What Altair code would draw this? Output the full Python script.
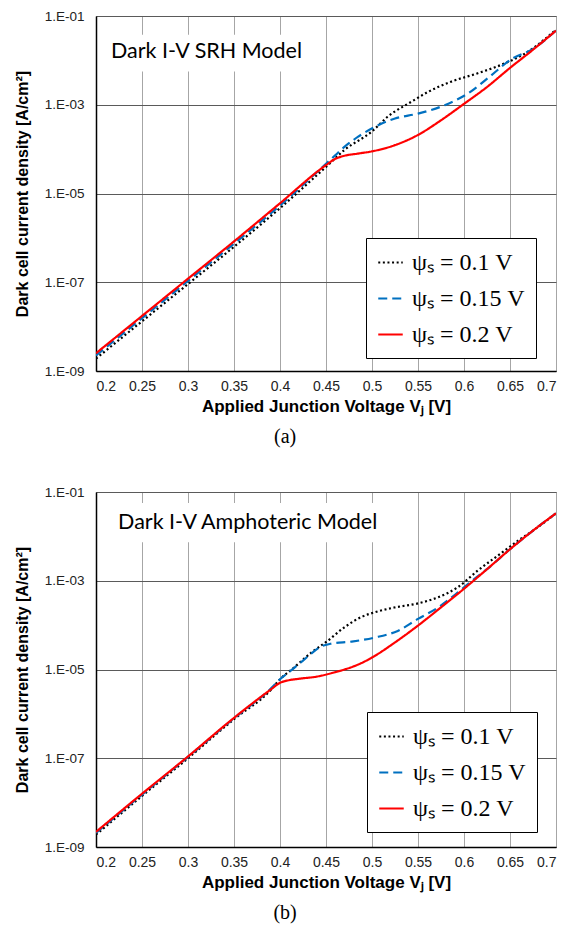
import altair as alt
import pandas as pd

# ---------------- data ----------------
X_TICKS = [0.2, 0.25, 0.3, 0.35, 0.4, 0.45, 0.5, 0.55, 0.6, 0.65, 0.7]
Y_TICKS = [1e-9, 1e-7, 1e-5, 1e-3, 1e-1]

SERIES = ["ψₛ = 0.1 V", "ψₛ = 0.15 V", "ψₛ = 0.2 V"]
COLORS = ["#000000", "#0070C0", "#FF0000"]
DASHES = [[2, 2.6], [9, 5], [1, 0]]

# Panel (a): Dark I-V SRH model  (log10 of current density)
SRH_X_01 = [0.2, 0.25, 0.3, 0.35, 0.4, 0.45, 0.47, 0.5, 0.517, 0.543, 0.561, 0.586, 0.615, 0.644, 0.666, 0.7]
SRH_L_01 = [-8.72, -7.88, -7.04, -6.20, -5.33, -4.40, -4.02, -3.60, -3.27, -2.93, -2.71, -2.48, -2.29, -2.07, -1.85, -1.31]
SRH_X_015 = [0.2, 0.25, 0.3, 0.35, 0.4, 0.45, 0.46, 0.47, 0.485, 0.503, 0.525, 0.55, 0.579, 0.604, 0.63, 0.651, 0.675, 0.7]
SRH_L_015 = [-8.65, -7.81, -6.97, -6.13, -5.27, -4.33, -4.14, -3.95, -3.72, -3.50, -3.31, -3.20, -3.01, -2.75, -2.33, -1.98, -1.74, -1.33]
SRH_X_02 = [0.2, 0.25, 0.3, 0.35, 0.4, 0.45, 0.46, 0.47, 0.485, 0.5, 0.525, 0.55, 0.575, 0.6, 0.625, 0.65, 0.675, 0.7]
SRH_L_02 = [-8.60, -7.76, -6.92, -6.08, -5.22, -4.36, -4.22, -4.15, -4.10, -4.05, -3.91, -3.68, -3.35, -2.98, -2.60, -2.17, -1.76, -1.33]

# Panel (b): Dark I-V amphoteric model (log10 of current density)
AMP_X_01 = [0.2, 0.25, 0.3, 0.35, 0.39, 0.4, 0.415, 0.434, 0.452, 0.47, 0.488, 0.503, 0.525, 0.55, 0.572, 0.593, 0.615, 0.637, 0.66, 0.675, 0.7]
AMP_L_01 = [-8.72, -7.85, -7.00, -6.12, -5.46, -5.22, -4.96, -4.62, -4.35, -4.05, -3.82, -3.71, -3.60, -3.51, -3.37, -3.15, -2.77, -2.43, -2.08, -1.87, -1.48]
AMP_X_015 = [0.2, 0.25, 0.3, 0.35, 0.39, 0.4, 0.412, 0.425, 0.434, 0.445, 0.455, 0.478, 0.503, 0.528, 0.55, 0.572, 0.593, 0.61, 0.625, 0.65, 0.675, 0.7]
AMP_L_015 = [-8.68, -7.82, -6.97, -6.10, -5.43, -5.22, -5.02, -4.80, -4.64, -4.48, -4.42, -4.37, -4.28, -4.13, -3.86, -3.60, -3.27, -2.98, -2.74, -2.29, -1.87, -1.48]
AMP_X_02 = [0.2, 0.25, 0.3, 0.35, 0.39, 0.4, 0.41, 0.42, 0.44, 0.46, 0.47, 0.48, 0.49, 0.5, 0.525, 0.55, 0.575, 0.6, 0.625, 0.65, 0.675, 0.7]
AMP_L_02 = [-8.66, -7.80, -6.96, -6.09, -5.45, -5.30, -5.24, -5.21, -5.16, -5.06, -5.00, -4.93, -4.84, -4.73, -4.39, -4.01, -3.60, -3.18, -2.74, -2.29, -1.87, -1.48]

PANEL_TITLES = ["Dark I-V SRH Model", "Dark I-V Amphoteric Model"]
TEXT_POS = [(0.2163, -1.82), (0.224, -1.70)]          # (x, log10 y) of annotation
BOX = [(0.2076, 0.428, -1.42, -2.25), (0.2076, 0.526, -1.25, -2.13)]
LEGEND_POS = [(270, 222), (271, 220)]
CAPTIONS = ["(a)", "(b)"]

SANS = "Arial, Liberation Sans, sans-serif"
SERIF = "Times New Roman, Liberation Serif, serif"


def make_df(xs_list, ls_list):
    rows = []
    for name, xs, ls in zip(SERIES, xs_list, ls_list):
        for i, (xv, lv) in enumerate(zip(xs, ls)):
            rows.append({"series": name, "x": xv, "y": 10 ** lv, "order": i})
    return pd.DataFrame(rows)


DFS = [
    make_df([SRH_X_01, SRH_X_015, SRH_X_02], [SRH_L_01, SRH_L_015, SRH_L_02]),
    make_df([AMP_X_01, AMP_X_015, AMP_X_02], [AMP_L_01, AMP_L_015, AMP_L_02]),
]

xscale = alt.Scale(domain=[0.2, 0.7], nice=False, zero=False)
yscale = alt.Scale(type="log", domain=[1e-9, 1e-1], nice=False)


def panel(k):
    df = DFS[k]
    x_axis = alt.Axis(
        values=X_TICKS, format=".2~f", title="Applied Junction Voltage Vⱼ [V]",
        grid=True, gridColor="#a6a6a6", gridWidth=1, ticks=False, tickSize=0,
        labelFont=SANS, labelFontSize=14, labelColor="#222",
        labelPadding=8, titleFont=SANS, titleFontSize=17,
        titleFontWeight="bold", titleColor="#000", titlePadding=5,
        domainColor="#000", domainWidth=1.5,
    )
    y_axis = alt.Axis(
        values=Y_TICKS, labelExpr="'1.E-0' + round(-log(datum.value) / LN10)",
        title="Dark cell current density [A/cm²]",
        grid=True, gridColor="#5a5a5a", gridWidth=1, ticks=False, tickSize=0,
        labelFont=SANS, labelFontSize=13.5, labelColor="#222",
        labelPadding=12, titleFont=SANS, titleFontSize=16,
        titleFontWeight="bold", titleColor="#000", titlePadding=14,
        domainColor="#000", domainWidth=1.5,
    )
    lx, ly = LEGEND_POS[k]
    legend = alt.Legend(
        title=None, orient="none", legendX=lx, legendY=ly,
        symbolType="stroke", symbolSize=600, symbolStrokeWidth=2,
        labelFont=SERIF, labelFontSize=24, labelColor="#000",
        labelOffset=8, rowPadding=10, padding=11,
        strokeColor="#000", fillColor="#ffffff",
    )
    lines = alt.Chart(df).mark_line(strokeWidth=2.2, interpolate="monotone", clip=True).encode(
        x=alt.X("x:Q", scale=xscale, axis=x_axis),
        y=alt.Y("y:Q", scale=yscale, axis=y_axis),
        color=alt.Color("series:N", scale=alt.Scale(domain=SERIES, range=COLORS), legend=legend),
        strokeDash=alt.StrokeDash("series:N", scale=alt.Scale(domain=SERIES, range=DASHES), legend=legend),
        order="order:Q",
    )
    bx0, bx1, bl0, bl1 = BOX[k]
    box_df = pd.DataFrame({"x": [bx0], "x2": [bx1], "y": [10 ** bl0], "y2": [10 ** bl1]})
    box = alt.Chart(box_df).mark_rect(fill="white").encode(
        x=alt.X("x:Q", scale=xscale), x2="x2:Q",
        y=alt.Y("y:Q", scale=yscale), y2="y2:Q",
    )
    tx, tl = TEXT_POS[k]
    txt_df = pd.DataFrame({"x": [tx], "y": [10 ** tl], "t": [PANEL_TITLES[k]]})
    txt = alt.Chart(txt_df).mark_text(
        align="left", baseline="middle", font="Lato", fontSize=21.5, color="#000"
    ).encode(x=alt.X("x:Q", scale=xscale), y=alt.Y("y:Q", scale=yscale), text="t:N")

    return alt.layer(box, txt, lines).properties(
        width=460, height=355,
        title=alt.TitleParams(
            CAPTIONS[k], orient="bottom", anchor="middle", frame="bounds",
            font=SERIF, fontSize=20, fontWeight="normal", color="#000", offset=13,
        ),
    )


chart = alt.vconcat(panel(0), panel(1), spacing=36).resolve_scale(
    color="independent", strokeDash="independent"
).properties(
    padding={"left": 5, "top": 0, "right": 5, "bottom": 5}
).configure_view(stroke="#6e6e6e", strokeWidth=1)

chart.save("out.html", embed_options={"renderer": "svg", "actions": False})
